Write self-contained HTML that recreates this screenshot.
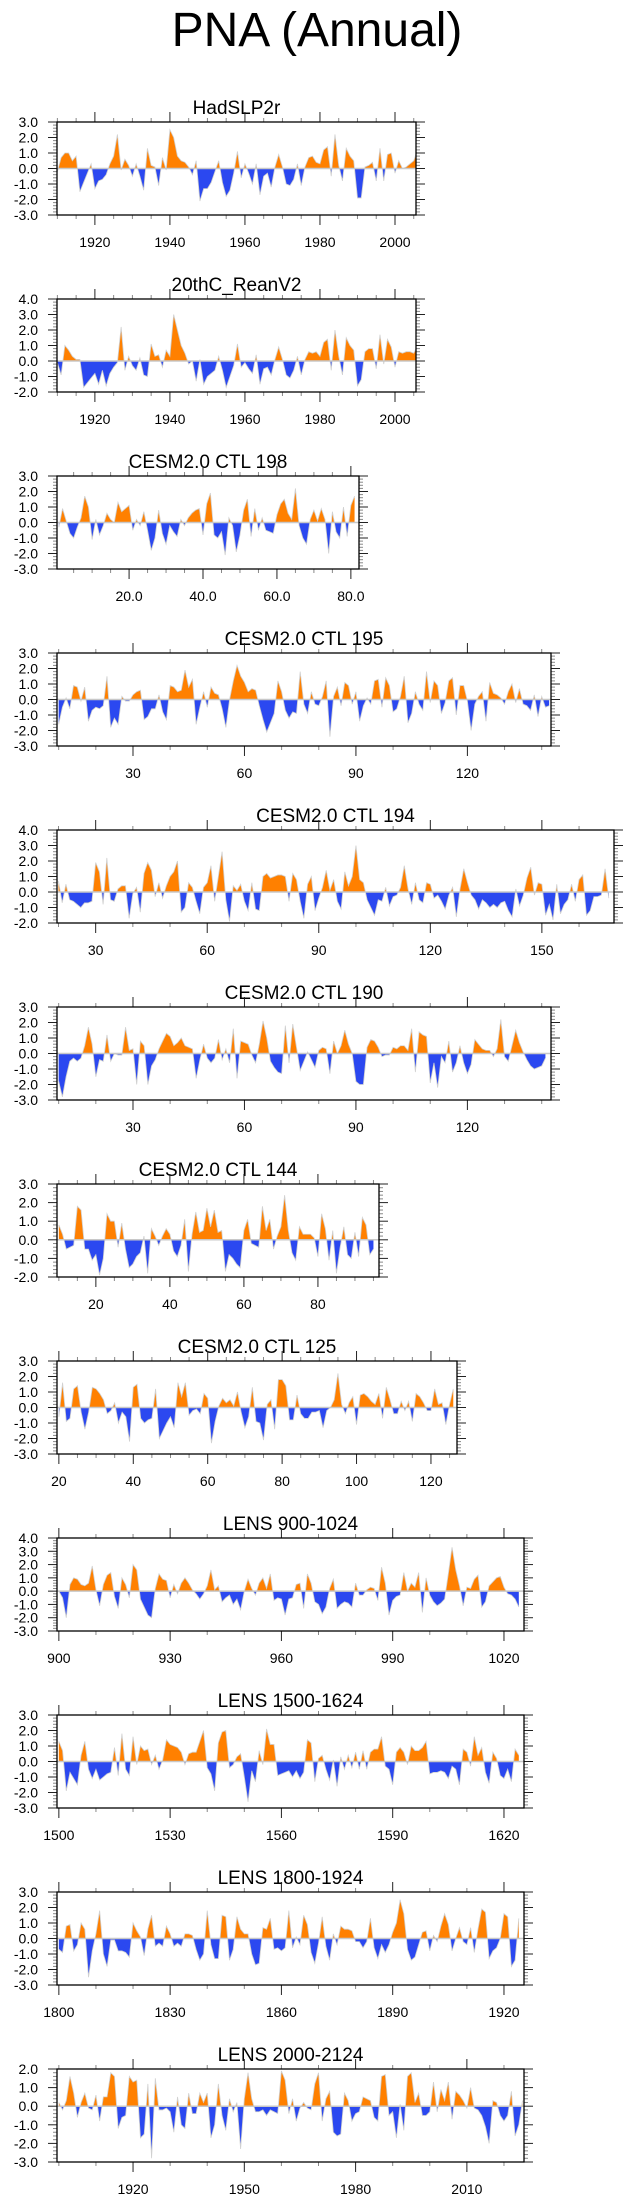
<!DOCTYPE html>
<html><head><meta charset="utf-8">
<style>
html,body{margin:0;padding:0;background:#fff;}
svg{display:block;font-family:"Liberation Sans",Arial,sans-serif;}
</style></head>
<body>
<svg id="chart" width="635" height="2203" viewBox="0 0 635 2203" xmlns="http://www.w3.org/2000/svg">
<text x="317" y="46" text-anchor="middle" font-size="48">PNA (Annual)</text>
</svg>
<script>
// ---- data arrays ----
const hadStart = 1910;
const hadValues = [-0.2,0.7,1.0,1.0,0.5,0.8,-1.5,-0.9,-0.3,0.3,-1.3,-0.8,-0.7,-0.4,0.3,0.8,2.2,-0.1,0.6,0.2,-0.5,0.3,-0.5,-1.4,1.3,0.2,0.1,-1.1,0.7,-0.1,2.5,2.0,0.8,0.5,0.4,0.1,-0.4,0.5,-2.1,-1.3,-1.3,-0.9,-0.2,0.5,-0.9,-1.8,-1.4,-0.3,1.1,-0.6,0.3,-0.3,-1.0,0.3,-1.7,-0.5,-0.3,-1.2,0.1,0.9,0.1,-1.0,-1.1,-0.7,0.3,-1.1,0.1,0.7,0.8,0.4,0.3,1.2,1.4,-0.5,2.2,0.2,-0.8,1.3,0.8,0.5,-1.9,-1.9,0.1,0.2,0.4,-0.8,1.3,-0.8,0.9,1.0,-0.3,0.5,0.0,0.1,0.3,0.5,1.2];
const reanStart = 1910;
const reanValues = [-0.1,-0.9,1.0,0.7,0.3,0.1,0.1,-1.7,-1.4,-1.1,-0.8,-1.5,-0.6,-1.6,-0.8,-0.4,-0.1,2.2,-0.6,0.3,-0.3,-0.6,0.2,-0.9,-1.0,1.1,0.3,0.4,-0.4,0.7,0.3,3.0,2.0,1.0,0.5,-0.2,0.0,-1.3,0.1,-1.5,-1.0,-0.8,-0.6,0.3,-0.6,-1.7,-1.0,-0.3,1.1,-0.4,-0.1,-0.5,-0.8,0.4,-1.5,-0.5,-0.4,-0.9,0.1,0.9,0.1,-0.9,-1.1,-0.6,0.3,-0.9,0.1,0.6,0.5,0.6,0.3,1.2,1.4,-0.6,2.0,0.3,-0.9,1.5,1.0,0.7,-1.6,-1.2,0.6,0.8,0.8,-0.5,1.7,-0.2,1.4,0.9,-0.4,0.6,0.5,0.6,0.6,0.5,1.0];
const ctl198Start = 1;
const ctl198Values = [-0.3,0.9,0.1,-0.7,-1.0,-0.3,0.3,1.7,1.0,-1.1,0.2,-0.8,-0.2,0.6,0.2,0.0,1.3,0.7,0.9,1.1,-0.5,0.2,-0.2,0.7,-0.5,-1.8,-1.0,0.8,-0.7,-1.4,-0.2,-0.6,-0.9,0.2,-0.2,0.3,0.6,0.8,0.9,-0.8,1.2,1.9,-0.8,-1.0,-0.6,-2.1,0.3,-0.2,-1.9,-0.8,0.8,1.5,-0.9,0.9,-0.5,0.3,-0.5,-0.6,-0.7,0.5,1.2,1.5,0.6,0.2,2.2,-0.2,-1.0,-1.4,0.2,0.8,0.1,0.9,0.2,-2.0,0.7,-0.6,-1.0,1.0,-0.9,1.1,1.7];
const ctl195Start = 10;
const ctl195Values = [-1.6,-0.5,0.1,-0.6,0.9,0.8,-0.1,0.8,-1.4,-0.7,-0.5,-0.6,-0.4,1.5,-1.8,-1.2,-1.6,0.2,-0.1,-0.1,0.3,0.5,0.6,-1.3,-1.1,-0.6,-0.6,0.3,-0.8,-1.3,0.9,0.8,0.5,0.6,1.9,0.8,1.3,-1.6,-0.5,0.5,-0.5,0.8,0.4,0.3,-0.6,-1.8,0.0,1.2,2.2,1.5,1.1,0.5,0.7,0.6,-0.4,-1.3,-2.1,-1.5,-0.9,1.2,0.5,-0.7,-1.2,-0.8,-0.9,1.8,-0.3,-0.9,0.5,-0.3,-0.4,0.2,1.2,-2.4,0.2,0.8,-0.4,1.1,0.9,-0.3,0.5,-1.4,-0.4,0.1,-0.3,1.2,1.3,-0.5,1.4,0.9,-0.8,-0.6,0.2,1.5,-1.5,-0.9,0.5,-0.3,-0.7,1.8,-0.2,1.2,0.9,-0.9,-0.2,1.2,1.4,-1.0,0.9,0.9,-0.1,-2.0,-0.3,0.2,0.5,-1.4,1.1,0.4,0.3,0.1,-0.3,0.5,1.0,-0.2,0.7,-0.3,-0.4,-0.7,0.3,-1.1,0.2,-0.5,-0.4];
const ctl194Start = 20;
const ctl194Values = [0.7,-0.7,0.5,-0.5,-0.6,-0.8,-1.0,-0.7,-0.7,-0.6,1.9,1.3,-0.8,2.2,-0.5,-0.6,0.2,0.4,0.4,-1.7,-0.1,0.3,-1.3,1.2,1.9,1.4,-0.3,0.6,-0.4,0.4,1.0,1.3,2.0,-1.3,-1.0,0.6,0.3,-0.6,-1.4,0.3,0.6,1.7,-0.6,1.0,2.6,-0.5,-1.9,0.4,0.1,0.5,-0.6,-1.2,0.6,-1.1,-1.2,1.0,1.2,0.9,1.0,1.1,1.1,1.0,-0.6,1.2,0.8,-0.6,-1.7,0.5,1.0,-1.2,-0.4,0.3,1.4,0.1,0.8,-0.6,-1.1,1.3,0.4,1.0,3.0,0.8,0.6,-0.5,-1.0,-1.5,-0.5,-0.6,0.3,-0.9,-0.3,-0.2,0.3,1.7,0.2,-0.8,0.6,-0.5,-0.7,0.6,0.5,-0.4,-0.2,-0.6,-1.1,-0.2,0.3,-1.6,0.2,1.5,0.6,-0.2,-0.5,-1.1,-0.5,-0.7,-1.0,-0.8,-1.0,-0.7,-0.6,-1.2,-1.6,0.2,-0.9,-0.2,0.9,1.6,-0.2,0.6,0.5,-1.5,-0.8,-1.8,0.5,-1.4,-0.8,-0.5,0.5,-0.6,0.8,1.1,-1.5,-1.2,-0.3,-0.3,-0.2,1.5,-0.4];
const ctl190Start = 10;
const ctl190Values = [-1.8,-2.8,-1.5,-0.5,-0.3,-0.5,-0.3,0.5,1.7,0.6,-1.5,-0.4,-0.5,1.2,-0.5,0.0,-0.1,-0.1,1.7,0.2,0.3,-2.0,0.8,0.5,-2.0,-0.8,-0.4,0.3,0.8,1.3,1.1,0.5,0.7,1.0,0.5,0.4,0.3,-1.6,-0.4,0.6,-0.3,-0.6,-0.3,0.9,-0.4,0.3,-0.6,1.6,-1.6,0.8,0.7,0.6,-0.1,-0.6,0.6,2.1,1.0,-0.5,-0.9,-1.2,-1.3,1.8,-0.6,1.9,0.4,-1.1,-0.5,0.1,-0.4,-0.9,0.2,0.4,0.3,-1.3,0.8,0.0,0.5,1.5,0.6,0.0,-1.8,-2.0,-2.0,0.4,0.9,0.8,0.4,-0.2,-0.1,-0.1,0.4,0.3,0.5,0.5,0.2,1.6,-1.2,1.4,1.2,1.1,-1.9,-0.6,-2.2,-0.2,-0.6,0.8,-1.2,-0.6,0.5,-0.6,-1.3,-0.7,0.9,0.6,0.3,0.2,0.2,-0.2,0.3,2.2,-0.2,-0.5,0.5,1.5,0.7,0.1,-0.4,-0.8,-1.0,-0.9,-0.8,-0.3];
const ctl144Start = 10;
const ctl144Values = [0.8,0.3,-0.5,-0.4,-0.3,1.8,1.6,-0.5,-0.5,-1.1,-0.8,-1.9,-1.0,1.4,1.0,1.0,-0.4,0.9,-0.5,-1.5,-1.3,-0.9,-0.7,0.2,-1.8,0.6,0.2,-0.3,0.2,0.6,0.3,-0.6,-0.9,-0.3,1.1,-1.7,0.3,1.5,0.4,0.5,1.7,0.7,1.6,0.4,0.5,-1.7,-0.8,-1.0,-1.3,-1.5,0.5,1.1,-0.2,-0.3,-0.4,1.8,0.5,1.1,-0.5,0.2,0.7,2.4,0.5,-0.7,-1.1,0.7,0.3,0.3,0.3,0.1,-0.9,1.4,0.6,-1.1,0.5,-1.8,-0.4,0.7,-0.8,-1.0,0.4,-0.9,1.2,0.8,-0.8,-0.5];
const ctl125Start = 20;
const ctl125Values = [-0.6,1.6,-0.9,-0.7,1.2,1.4,-0.3,-1.4,-0.3,1.3,1.2,0.9,0.5,-0.4,-0.2,0.3,-1.0,-0.3,-0.6,-2.2,1.3,1.5,-0.7,-1.0,-0.8,-0.7,1.2,-2.0,-1.5,-1.0,-0.6,-1.3,1.6,0.7,1.6,-0.5,-0.2,-0.1,-0.4,0.9,0.6,-2.3,-0.9,0.1,0.6,0.3,0.5,0.1,1.0,-0.3,-1.3,-0.6,1.3,-0.9,-1.0,-2.1,0.2,0.5,-1.4,1.8,1.8,1.4,-0.8,-0.8,0.8,-0.4,-0.7,-0.7,-0.3,-0.3,-0.2,-1.3,-0.2,0.0,0.5,2.2,0.2,-0.4,0.3,0.7,-1.1,0.8,0.9,0.7,0.4,0.2,0.9,-0.7,1.3,0.5,-0.4,-0.4,0.4,-0.2,0.4,-0.9,0.9,0.7,0.3,-0.2,-0.2,1.2,0.2,0.3,-1.1,0.2,1.2];
const lens900Start = 900;
const lens900Values = [0.0,-0.5,-2.0,0.5,1.0,0.9,0.5,0.4,0.6,1.9,0.1,-1.1,0.5,1.2,1.4,-0.4,-1.3,1.0,0.5,-0.5,2.0,1.6,-0.6,-1.2,-1.8,-2.0,0.2,1.3,0.9,0.8,-0.5,0.5,-0.2,0.6,1.0,0.6,0.1,-0.2,-0.6,-0.2,0.4,1.6,0.1,0.4,-0.8,-0.5,-0.3,-1.0,-0.6,-1.4,0.0,0.9,0.2,-0.3,0.6,1.0,0.2,1.3,-0.7,-0.5,-0.6,-1.8,-0.6,-0.5,0.5,0.6,-1.3,1.3,0.6,-0.8,-1.0,-1.7,-1.2,0.2,0.9,-1.3,-1.0,-0.8,-0.9,-1.2,0.6,-0.3,-0.3,0.1,0.3,0.2,-0.7,1.8,0.6,-1.8,-0.7,-0.4,-0.3,1.4,0.0,0.6,0.3,1.4,-1.6,1.0,-0.3,-0.8,-1.1,-0.9,-0.6,1.3,3.3,1.6,0.4,-1.1,0.3,0.2,0.9,1.2,-1.2,-0.8,0.4,0.7,1.0,1.1,0.3,-0.2,-0.3,-0.6,-1.2];
const lens1500Start = 1500;
const lens1500Values = [1.3,0.7,-1.9,-0.7,-1.1,-1.5,0.4,1.3,-0.5,-1.1,-0.5,-1.2,-1.0,-0.8,-0.7,0.9,-0.9,1.8,-0.5,-0.9,1.6,-0.2,1.0,0.7,0.8,-0.2,0.4,-0.5,0.1,1.4,1.1,1.0,0.9,0.6,-0.2,0.5,0.6,0.6,1.3,2.0,-0.4,-0.8,-1.9,1.2,1.9,2.0,-0.4,-0.2,0.3,0.5,-1.0,-2.6,-0.6,-1.3,0.7,-0.2,2.1,1.1,1.1,-0.9,-0.8,-0.7,-0.6,-1.0,-0.6,-1.1,-0.7,1.4,1.2,-1.3,0.2,0.4,-0.5,-1.2,0.1,-1.6,0.3,-0.5,0.4,-0.4,0.6,-0.5,0.7,-0.5,0.6,0.8,0.8,1.6,-0.3,-0.5,-1.5,0.6,0.9,0.6,-0.2,1.0,0.7,0.7,0.9,1.3,-0.8,-0.7,-0.7,-0.6,-0.7,-1.1,-0.3,-0.5,-1.5,0.8,0.6,-0.3,1.6,0.4,0.9,-0.7,-1.4,0.6,0.2,-0.9,-1.1,-0.5,-1.3,0.8,0.4];
const lens1800Start = 1800;
const lens1800Values = [-0.7,-0.9,0.8,0.9,-0.8,-0.4,1.0,0.6,-2.5,-0.8,0.3,1.8,-1.0,-1.8,-0.1,-0.1,-0.8,-0.8,-0.9,-1.2,1.0,0.5,0.1,-1.1,0.6,1.5,-0.5,-0.3,-0.5,0.8,0.3,-0.5,-0.3,-0.5,0.3,0.3,0.2,-0.7,-1.4,-1.0,1.8,-0.4,-1.3,-1.3,1.5,1.4,-1.4,-0.7,1.4,0.6,0.3,0.3,-1.0,-1.7,-1.6,0.7,0.6,1.3,-0.7,-0.6,-0.8,-0.6,1.8,-0.6,0.1,-0.4,1.5,0.9,-0.9,-1.6,-0.3,1.4,-0.5,-1.4,0.3,-0.4,0.8,0.6,0.6,0.5,-0.2,-0.2,-0.6,-0.2,1.3,-0.6,-1.3,-0.4,-0.9,-0.4,0.4,1.0,2.5,1.6,-0.7,-1.4,-1.2,-0.4,0.4,0.5,-0.8,0.2,-0.2,0.8,1.6,0.9,-0.8,0.0,0.7,-0.2,-0.4,0.7,-0.9,0.6,1.9,1.7,-1.3,-0.8,-0.6,0.0,1.6,1.4,-1.8,-1.4,1.3];
const lens2000Start = 1900;
const lens2000Values = [0.2,-0.2,0.3,1.6,0.7,-0.6,0.2,0.7,-0.1,-0.2,0.6,-0.8,0.5,0.5,1.8,1.6,-1.2,-0.6,-0.5,1.6,1.3,1.4,-1.7,-1.5,1.2,-2.8,1.5,-0.2,-0.2,-0.1,-0.3,-1.4,0.5,-1.0,-1.2,0.7,-0.4,-0.4,0.7,0.2,0.7,-1.7,-1.0,1.2,-0.5,-1.3,0.4,-0.3,0.2,-2.3,0.4,1.8,0.4,-0.3,-0.3,-0.2,-0.5,-0.2,-0.3,-0.4,1.9,1.4,-0.4,0.4,-0.8,-0.1,0.2,-0.1,-0.2,1.2,1.8,-0.8,0.4,0.8,-1.4,-1.6,-1.5,0.7,0.3,-0.8,-0.4,-0.3,0.5,0.4,0.3,-0.6,-0.8,1.6,1.7,-0.5,-0.3,-1.7,0.1,-1.3,1.6,1.8,0.2,0.7,-0.5,-0.5,-0.3,1.3,-0.3,0.9,0.3,1.3,-0.7,0.8,0.6,0.3,-0.1,1.0,-0.1,-0.2,-0.5,-1.1,-2.0,0.3,0.2,-0.5,-0.8,-0.5,0.8,-1.6,-1.0,0.3];

const panelTitles = ["HadSLP2r","20thC_ReanV2","CESM2.0 CTL 198","CESM2.0 CTL 195","CESM2.0 CTL 194","CESM2.0 CTL 190","CESM2.0 CTL 144","CESM2.0 CTL 125","LENS 900-1024","LENS 1500-1624","LENS 1800-1924","LENS 2000-2124"];
const yMaxes = [3,4,3,3,4,3,3,3,4,3,3,2];
const yMins = [-3,-2,-3,-3,-2,-3,-2,-3,-3,-3,-3,-3];
const xTickLabels = [
 ["1920","1940","1960","1980","2000"],
 ["1920","1940","1960","1980","2000"],
 ["20.0","40.0","60.0","80.0"],
 ["30","60","90","120"],
 ["30","60","90","120","150"],
 ["30","60","90","120"],
 ["20","40","60","80"],
 ["20","40","60","80","100","120"],
 ["900","930","960","990","1020"],
 ["1500","1530","1560","1590","1620"],
 ["1800","1830","1860","1890","1920"],
 ["1920","1950","1980","2010"]
];
const xTickValues = [
 [1920,1940,1960,1980,2000],[1920,1940,1960,1980,2000],[20,40,60,80],[30,60,90,120],
 [30,60,90,120,150],[30,60,90,120],[20,40,60,80],[20,40,60,80,100,120],
 [900,930,960,990,1020],[1500,1530,1560,1590,1620],[1800,1830,1860,1890,1920],[1920,1950,1980,2010]
];

const series = [hadValues,reanValues,ctl198Values,ctl195Values,ctl194Values,ctl190Values,ctl144Values,ctl125Values,lens900Values,lens1500Values,lens1800Values,lens2000Values];
const starts = [hadStart,reanStart,ctl198Start,ctl195Start,ctl194Start,ctl190Start,ctl144Start,ctl125Start,lens900Start,lens1500Start,lens1800Start,lens2000Start];

// layout (not data)
const layout = [
 {r:416,x0:1909.9,x1:2005.6,maj:20,min:5},
 {r:416,x0:1909.9,x1:2005.6,maj:20,min:5},
 {r:359,x0:0.5,x1:82.2,maj:20,min:5},
 {r:551,x0:9.55,x1:142.5,maj:30,min:10},
 {r:614,x0:19.6,x1:169.4,maj:30,min:10},
 {r:551,x0:9.55,x1:142.5,maj:30,min:10},
 {r:379,x0:9.5,x1:96.5,maj:20,min:5},
 {r:457,x0:19.5,x1:127,maj:20,min:5},
 {r:524,x0:899.5,x1:1025.4,maj:30,min:10},
 {r:524,x0:1499.5,x1:1625.4,maj:30,min:10},
 {r:524,x0:1799.5,x1:1925.4,maj:30,min:10},
 {r:524,x0:1899.5,x1:2025.4,maj:30,min:10}
];

const NS = "http://www.w3.org/2000/svg";
const svg = document.getElementById('chart');
function mk(tag, attrs, parent){
  const e = document.createElementNS(NS, tag);
  for (const k in attrs) e.setAttribute(k, attrs[k]);
  (parent||svg).appendChild(e);
  return e;
}

for (let p=0; p<12; p++){
  const L = layout[p];
  const left = 57, right = L.r, top = 122 + 177*p, bottom = top + 93;
  const ymax = yMaxes[p], ymin = yMins[p];
  const xs = v => left + (v - L.x0) / (L.x1 - L.x0) * (right - left);
  const ys = v => top + (ymax - v) / (ymax - ymin) * (bottom - top);
  const g = mk('g', {});
  
  

  const t = mk('text', {x:(left+right)/2, y:top-8, 'text-anchor':'middle', 'font-size':19}, g);
  
  
  t.textContent = panelTitles[p];

  const vals = series[p], st = starts[p];
  const cid = 'clip' + p;
  const defs = mk('defs', {}, g);
  const cpU = mk('clipPath', {id:cid+'u'}, defs);
  mk('rect', {x:left, y:top, width:right-left, height:ys(0)-top}, cpU);
  const cpD = mk('clipPath', {id:cid+'d'}, defs);
  mk('rect', {x:left, y:ys(0), width:right-left, height:bottom-ys(0)}, cpD);
  const cpA = mk('clipPath', {id:cid+'a'}, defs);
  mk('rect', {x:left, y:top, width:right-left, height:bottom-top}, cpA);

  let d = 'M' + xs(st).toFixed(2) + ',' + ys(0).toFixed(2);
  let ln = '';
  vals.forEach((v,i) => {
    const X = xs(st+i).toFixed(2), Y = ys(v).toFixed(2);
    d += 'L' + X + ',' + Y;
    ln += (i? 'L':'M') + X + ',' + Y;
  });
  d += 'L' + xs(st+vals.length-1).toFixed(2) + ',' + ys(0).toFixed(2) + 'Z';
  const pos = mk('path', {d:d, fill:'#ff8000', 'clip-path':'url(#'+cid+'u)'}, g);
  
  
  const neg = mk('path', {d:d, fill:'#2b48f0', 'clip-path':'url(#'+cid+'d)'}, g);
  
  
  const cl = mk('path', {d:ln, fill:'none', stroke:'#d0d0d0', 'stroke-width':0.8, 'clip-path':'url(#'+cid+'a)'}, g);
  
  
  const zl = mk('line', {x1:left, x2:right, y1:ys(0), y2:ys(0), stroke:'#c8c8c8', 'stroke-width':1.5}, g);
  
  

  // y ticks
  for (let k = Math.round(ymin*5); k <= Math.round(ymax*5); k++){
    const v = k/5, y = ys(v), major = (k % 5 === 0);
    const len = major ? 9 : 4;
    mk('line', {x1:left-len, x2:left, y1:y, y2:y, stroke: major?'#222':'#888', 'stroke-width':1}, g);
    mk('line', {x1:right, x2:right+len, y1:y, y2:y, stroke: major?'#222':'#888', 'stroke-width':1}, g);
    if (major){
      const lb = mk('text', {x:38, y:y+5, 'text-anchor':'end', 'font-size':14}, g);
      
      
      lb.textContent = v.toFixed(1);
    }
  }
  // x minor/major ticks
  const first = Math.ceil(L.x0 / L.min) * L.min;
  for (let v = first; v <= L.x1; v += L.min){
    const x = xs(v), major = (Math.round(v) % L.maj === 0);
    const len = major ? 10 : 4;
    mk('line', {x1:x, x2:x, y1:bottom, y2:bottom+len, stroke: major?'#222':'#888', 'stroke-width':1}, g);
    mk('line', {x1:x, x2:x, y1:top-len, y2:top, stroke: major?'#222':'#888', 'stroke-width':1}, g);
  }
  xTickValues[p].forEach((v,i) => {
    const lb = mk('text', {x:xs(v), y:bottom+32, 'text-anchor':'middle', 'font-size':14}, g);
    
    
    lb.textContent = xTickLabels[p][i];
  });
  const fr = mk('rect', {x:left, y:top, width:right-left, height:bottom-top, fill:'none', stroke:'#000', 'stroke-width':1.3}, g);
  
  
}
</script>
</body></html>
